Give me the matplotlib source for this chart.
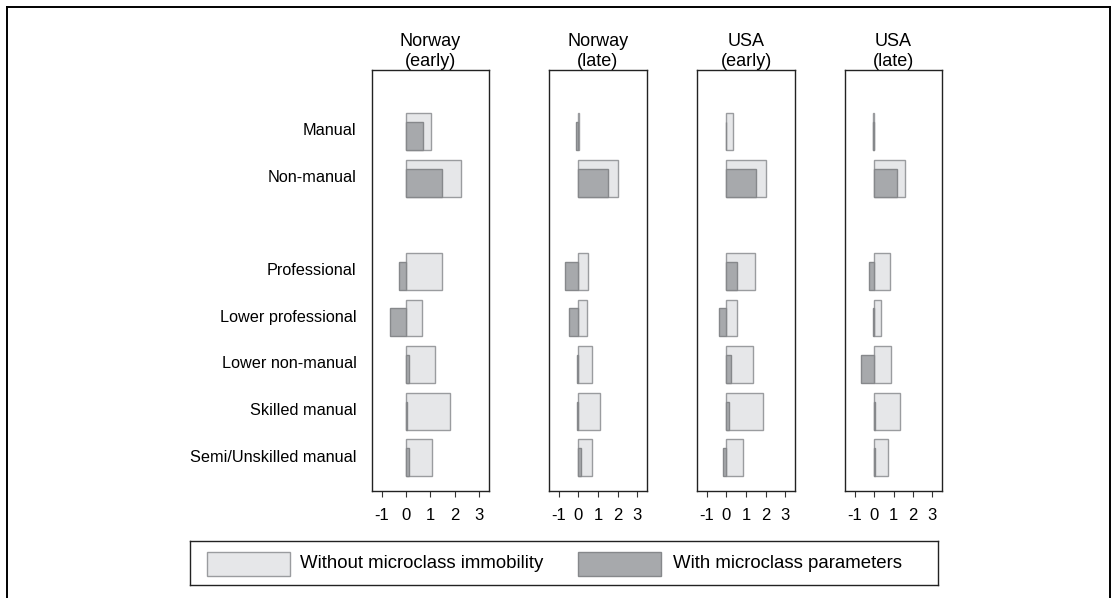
import matplotlib
matplotlib.use("Agg")
import matplotlib.pyplot as plt
from matplotlib.patches import Rectangle
from matplotlib.lines import Line2D
import numpy as np

plt.rcParams['font.family'] = ['Liberation Sans', 'DejaVu Sans']

# Categories and their vertical slots (slot 2 is left empty as a spacer)
categories = ["Manual", "Non-manual", "Professional", "Lower professional",
              "Lower non-manual", "Skilled manual", "Semi/Unskilled manual"]
slots = [0, 1, 3, 4, 5, 6, 7]

panel_titles = ["Norway\n(early)", "Norway\n(late)", "USA\n(early)", "USA\n(late)"]

# Without microclass immobility
without_micro = [
    [1.02, 2.27, 1.46, 0.67, 1.20, 1.81, 1.07],   # Norway early
    [0.04, 2.00, 0.50, 0.45, 0.69, 1.12, 0.69],   # Norway late
    [0.32, 2.00, 1.44, 0.53, 1.34, 1.86, 0.86],   # USA early
    [-0.04, 1.60, 0.83, 0.36, 0.88, 1.31, 0.72],  # USA late
]
# With microclass parameters
with_micro = [
    [0.71, 1.46, -0.29, -0.68, 0.12, 0.03, 0.10],
    [-0.13, 1.53, -0.67, -0.48, -0.06, -0.06, 0.14],
    [-0.02, 1.51, 0.54, -0.39, 0.22, 0.12, -0.19],
    [-0.07, 1.17, -0.28, -0.05, -0.67, 0.03, 0.05],
]

x_ticks = [-1, 0, 1, 2, 3]
legend_labels = ["Without microclass immobility", "With microclass parameters"]

light_fc, light_ec = "#e6e7e9", "#9a9c9f"
dark_fc, dark_ec = "#a7a9ac", "#86888b"

W, H = 1112, 598
fig = plt.figure(figsize=(W / 100, H / 100), dpi=100)

# panel boxes in pixels: (left, right, xlim)
boxes = [(372, 489, (-1.4, 3.4)), (549, 647, (-1.5, 3.5)),
         (697, 795, (-1.5, 3.5)), (845, 942, (-1.5, 3.5))]
top_px, bot_px = 70, 491

light_h = 0.79
dark_h = 0.60
ypos = np.array(slots, dtype=float)

for i, (l, r, xl) in enumerate(boxes):
    ax = fig.add_axes([l / W, 1 - bot_px / H, (r - l) / W, (bot_px - top_px) / H])
    ax.barh(ypos, without_micro[i], height=light_h, color=light_fc,
            edgecolor=light_ec, linewidth=1.0, zorder=2)
    ax.barh(ypos + (light_h - dark_h) / 2, with_micro[i], height=dark_h,
            color=dark_fc, edgecolor=dark_ec, linewidth=1.0, zorder=3)
    ax.set_xlim(*xl)
    ax.set_ylim(7.71, -1.32)
    ax.set_xticks(x_ticks)
    ax.set_xticklabels([str(t) for t in x_ticks], fontsize=12)
    ax.tick_params(axis='x', direction='out', length=4.5, width=0.8,
                   color='#333333', pad=8)
    if i == 0:
        ax.set_yticks(ypos - 0.05)
        ax.set_yticklabels(categories, fontsize=11.7)
        ax.tick_params(axis='y', length=0, pad=11)
    else:
        ax.set_yticks([])
    for sp in ax.spines.values():
        sp.set_linewidth(1.0)
        sp.set_color('#222222')
    ax.set_title(panel_titles[i], fontsize=13, pad=3, linespacing=1.25)

# Legend box drawn in pixel units
lg_l, lg_r, lg_t, lg_b = 190, 938, 541, 585
lax = fig.add_axes([lg_l / W, 1 - lg_b / H, (lg_r - lg_l) / W, (lg_b - lg_t) / H])
lax.set_xlim(lg_l, lg_r)
lax.set_ylim(lg_b, lg_t)
lax.set_xticks([])
lax.set_yticks([])
for sp in lax.spines.values():
    sp.set_linewidth(1.0)
    sp.set_color('#222222')
lax.add_patch(Rectangle((207, 552), 83, 24, facecolor=light_fc, edgecolor=light_ec, lw=1.0))
lax.text(300, 564, legend_labels[0], fontsize=13.4, va='center', ha='left')
lax.add_patch(Rectangle((578, 552), 83, 24, facecolor=dark_fc, edgecolor=dark_ec, lw=1.0))
lax.text(673, 564, legend_labels[1], fontsize=13.4, va='center', ha='left')

# Outer frame (left, top, right)
lw_frame = 1.4
fig.add_artist(Line2D([7 / W, 7 / W], [0, 1 - 7 / H], color='black', lw=lw_frame))
fig.add_artist(Line2D([7 / W, 1110 / W], [1 - 7 / H, 1 - 7 / H], color='black', lw=lw_frame))
fig.add_artist(Line2D([1110 / W, 1110 / W], [0, 1 - 7 / H], color='black', lw=lw_frame))

fig.savefig("out.png", dpi=100)
